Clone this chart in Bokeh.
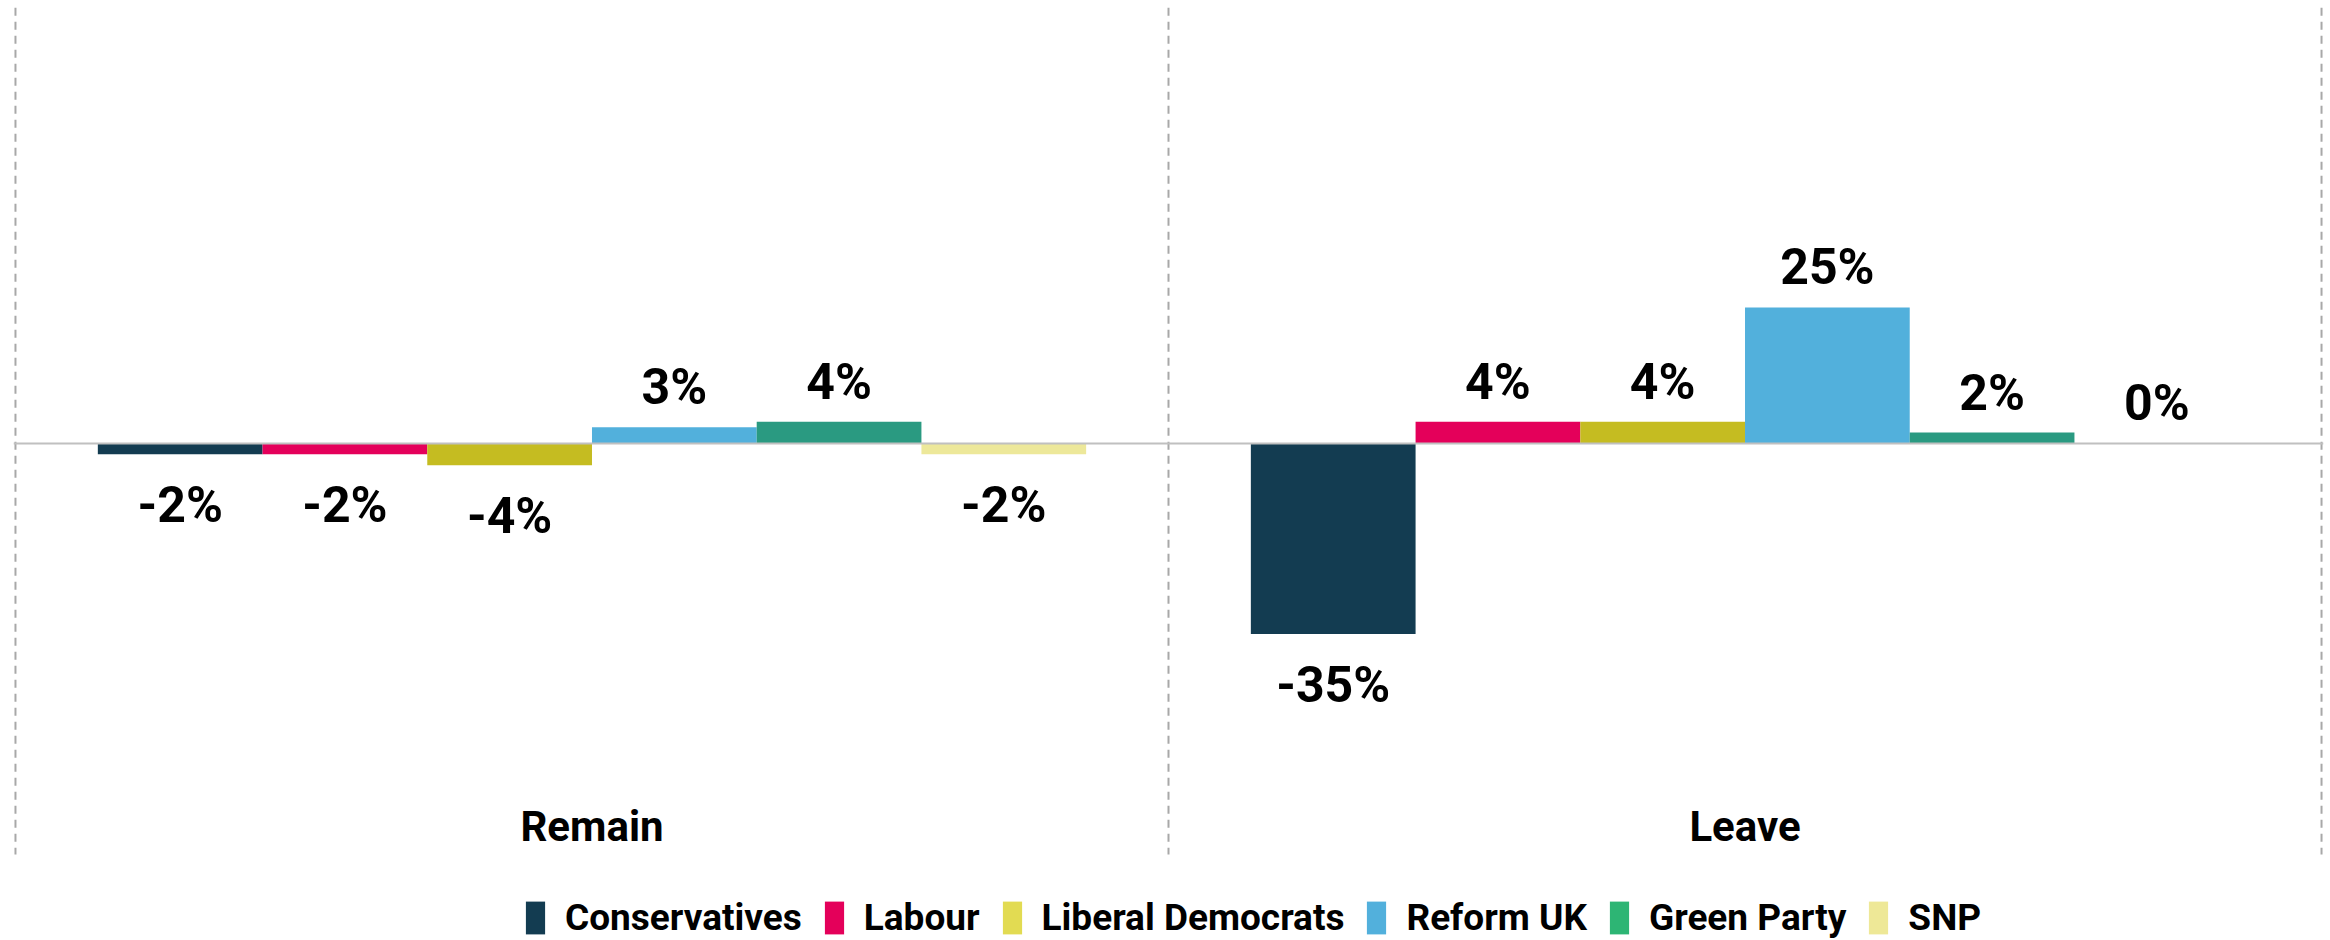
from bokeh.plotting import figure
from bokeh.models import ColumnDataSource, FactorRange, Range1d, Span, Legend, LegendItem
from bokeh.core.properties import value
from bokeh.embed import file_html
from bokeh.resources import INLINE

# ---- data ----
groups = ["Remain", "Leave"]
parties = ["Conservatives", "Labour", "Liberal Democrats", "Reform UK", "Green Party", "SNP"]
remain = [-2, -2, -4, 3, 4, -2]
leave = [-35, 4, 4, 25, 2, 0]
bar_colors = ["#133c51", "#e4005a", "#c5bc21", "#52b0dc", "#2a9a81", "#ede89a"]
legend_colors = ["#133c51", "#e4005a", "#e2db52", "#52b0dc", "#2db574", "#eee897"]

FONT = "Roboto"
x = [(g, pty) for g in groups for pty in parties]
vals = remain + leave
src = ColumnDataSource(dict(
    x=x,
    top=vals,
    color=bar_colors * len(groups),
    label=[f"{v}%" for v in vals],
    yoff=[-40 if v >= 0 else 51 for v in vals],
))

x_range = FactorRange(factors=x, factor_padding=0.0, group_padding=1.0,
                      range_padding=0.512, range_padding_units="absolute")
y_range = Range1d(-91.36, 81.43)

p = figure(width=2330, height=940, x_range=x_range, y_range=y_range,
           output_backend="svg", toolbar_location=None,
           min_border_left=13, min_border_right=7, min_border_top=0, min_border_bottom=0)
p.axis.visible = False
p.grid.visible = False
p.outline_line_color = None
p.background_fill_color = "white"

# group separators (dashed)
n = len(parties)
seps = [-0.5] + [(i + 1) * (n + 1) - 0.5 for i in range(len(groups))]
sep_top = 80.1
sep_bottom = -75.55
p.segment(x0=seps, x1=seps, y0=[sep_top] * len(seps), y1=[sep_bottom] * len(seps),
          line_color="#a8a8a8", line_width=2, line_dash="8 6")

# zero line
p.add_layout(Span(location=0, dimension="width", line_color="#c0c0c0", line_width=2))

# bars
p.vbar(x="x", top="top", bottom=0, width=1.0, fill_color="color", line_color=None, source=src)

# value labels
p.text(x="x", y="top", text="label", y_offset="yoff", source=src,
       text_align="center", text_baseline="middle", text_color="black",
       text_font=value(FONT), text_font_style="bold", text_font_size="50px")

# group labels
p.text(x=groups, y=[-70.4] * len(groups), text=groups,
       text_align="center", text_baseline="middle", text_color="black",
       text_font=value(FONT), text_font_style="bold", text_font_size="42px")

# legend (separate swatch colours; zero-height dummy bars)
items = []
for party, c in zip(parties, legend_colors):
    r = p.vbar(x=[x[0]], top=[0], bottom=0, width=1.0, fill_color=c, line_color=None)
    items.append(LegendItem(label=party, renderers=[r]))

legend = Legend(items=items, orientation="horizontal", location=(510, 1),
                glyph_width=24, glyph_height=41, label_standoff=18, spacing=20,
                padding=0, margin=0, border_line_alpha=0, background_fill_alpha=0,
                label_text_font=FONT, label_text_font_style="bold",
                label_text_font_size="37px", label_text_color="black")
p.add_layout(legend, "center")

open("out.html", "w").write(file_html(p, INLINE))
